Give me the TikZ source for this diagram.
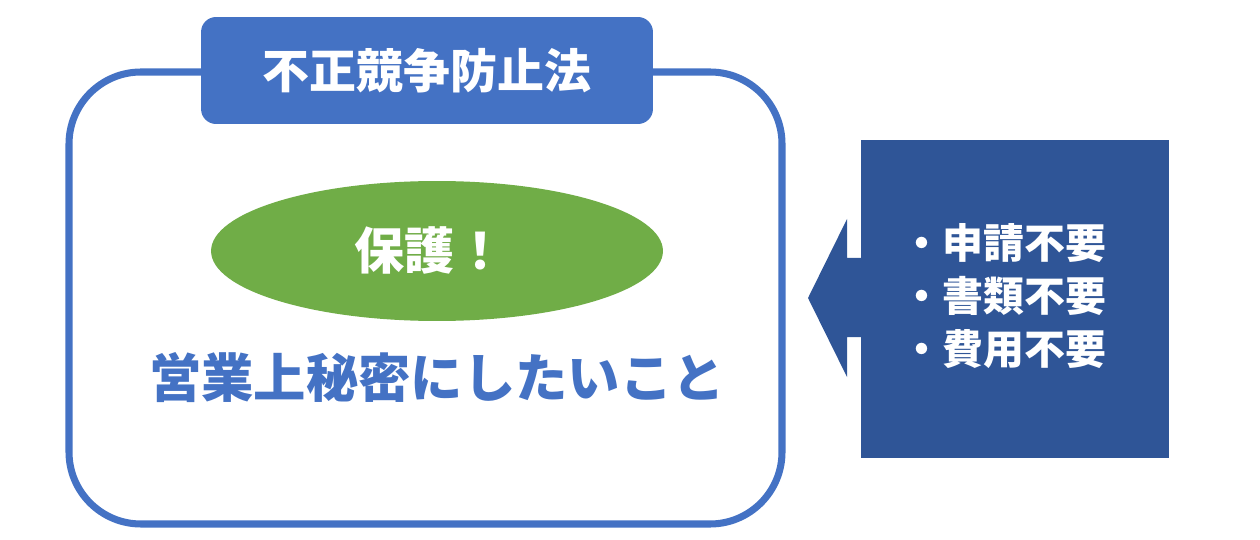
\documentclass[tikz,border=0pt]{standalone}
\usepackage{fontspec}
\newfontfamily\cjk{Noto Sans CJK JP}
\usetikzlibrary{positioning,shapes.geometric}
\definecolor{lawblue}{HTML}{4472C4}
\definecolor{leafgreen}{HTML}{70AD47}
\definecolor{darkblue}{HTML}{2F5597}

\begin{document}
\begin{tikzpicture}[x=0.02cm,y=-0.02cm,
  jp/.style={font=\cjk\bfseries, inner sep=0pt},
  tab/.style={fill=lawblue, rounded corners=0.3cm, minimum width=9.04cm, minimum height=2.14cm, inner sep=0pt},
  badge/.style={ellipse, fill=leafgreen, minimum width=9.04cm, minimum height=2.8cm, inner sep=0pt},
  sidebox/.style={fill=darkblue, minimum width=6.16cm, minimum height=6.36cm, inner sep=0pt}]
\useasboundingbox (0,0) rectangle (1260,540);

% outer frame
\draw[lawblue, line width=4pt, rounded corners=1.44cm] (69,72) rectangle (782,524);

% title tab
\node[tab] (tab) at (427,70.5) {};
\node[jp, text=white, font=\cjk\bfseries\fontsize{26.7}{30}\selectfont] (title) at (tab.center) {不正競争防止法};

% protected badge
\node[badge] (badge) at (437,251) {};
\node[jp, text=white, font=\cjk\bfseries\fontsize{28.5}{32}\selectfont] (protect) at (430,250) {保護！};

\node[jp, text=lawblue, font=\cjk\bfseries\fontsize{29.8}{34}\selectfont] (secret) at (437,378) {営業上秘密にしたいこと};

% right box with arrow
\node[sidebox] (side) at (1015,299) {};
\fill[darkblue] (863,258) -- (847,258) -- (847,219) -- (808,298)
  -- (847,377) -- (847,337) -- (863,337) -- cycle;
\node[jp, text=white, align=left, font=\cjk\bfseries\fontsize{23.3}{30}\selectfont] (needs) at (1004,296)
  {・申請不要\\・書類不要\\・費用不要};

\end{tikzpicture}
\end{document}
